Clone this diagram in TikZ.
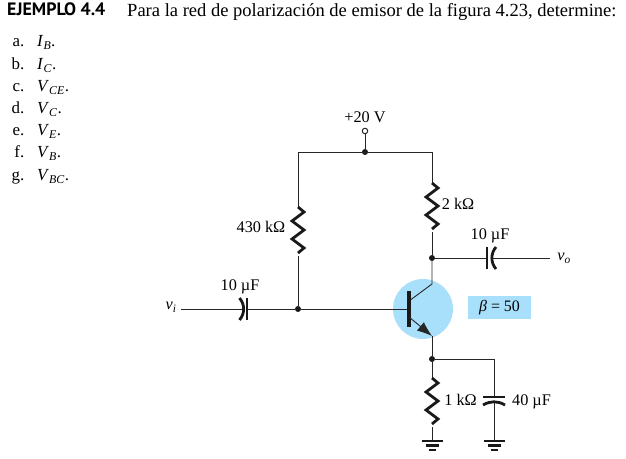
\documentclass[tikz,border=0pt]{standalone}
\usepackage{fontspec}
\setmainfont{Liberation Serif}
\newfontfamily\headfont{PT Sans}
\usetikzlibrary{arrows.meta}

\newcommand{\varsub}[2]{\textit{#1}\textsubscript{\textit{#2}}.}

\definecolor{bjtblue}{RGB}{168,223,250}
\tikzset{
    wire/.style={draw=black!85, line width=0.9bp},
    dot/.style={circle, fill=black!90, inner sep=0pt, minimum size=6bp},
    opendot/.style={circle, draw=black!85, fill=white, line width=1bp, inner sep=0pt, minimum size=5.5bp},
    plate/.style={draw=black!90, line width=2.8bp},
    lbl/.style={font=\fontsize{16.3}{18}\selectfont, inner sep=0pt, anchor=base},
    item/.style={font=\fontsize{17}{19}\selectfont, inner sep=0pt},
    resistor/.pic={
        \draw[black!90, line width=2.8bp, line join=miter] (0,0) -- ++(6,5) -- ++(-12,9) -- ++(12,9) -- ++(-12,9) -- ++(12,9) -- ++(-6,5);
    },
    ground/.pic={
        \draw[black!90, line width=2.2bp] (-10.5,0) -- (10.5,0);
        \draw[black!90, line width=2.2bp] (-6.5,4.5) -- (6.5,4.5);
        \draw[black!90, line width=2.2bp] (-3.5,9) -- (3.5,9);
    }
}

\begin{document}
\begin{tikzpicture}[x=1bp, y=-1bp]
    \useasboundingbox (0,0) rectangle (626,459);
    % heading
    \node[anchor=base west, inner sep=0pt, font=\headfont\bfseries\fontsize{18}{20}\selectfont] (head) at (7,16) {EJEMPLO 4.4};
    \node[anchor=base west, inner sep=0pt, font=\fontsize{18.6}{20}\selectfont] (task) at (127,16.5) {Para la red de polarización de emisor de la figura 4.23, determine:};
    % questions
    \foreach \i/\y/\l/\v in {a/47/a./{\varsub{I}{B}}, b/70/b./{\varsub{I}{C}}, c/92/c./{\varsub{V}{CE}},
        d/114/d./{\varsub{V}{C}}, e/136/e./{\varsub{V}{E}}, f/158/f./{\varsub{V}{B}}, g/181/g./{\varsub{V}{BC}}}{
        \node[item, anchor=base east] (let\i) at (24.5,\y) {\l};
        \node[item, anchor=base west] (var\i) at (37,\y) {\v};
    }
    % highlights
    \fill[bjtblue] (423,309) circle (30);
    \node[fill=bjtblue, minimum width=63bp, minimum height=23bp, inner sep=0pt] (betabox) at (499.5,307.5) {\fontsize{16}{18}\selectfont\textit{β} = 50};
    % nodes of the network
    \node[opendot] (vcc) at (365,131) {};
    \node[dot] (jtop) at (365,152) {};
    \node[dot] (jcol) at (432,258) {};
    \node[dot] (jbase) at (298,309) {};
    \node[dot] (jemit) at (432,359) {};
    \coordinate (cornerl) at (298,152);
    \coordinate (cornerr) at (432,152);
    \coordinate (cornerc) at (494,359);
    \coordinate (rba) at (298,207);
    \coordinate (rbb) at (298,256);
    \coordinate (rca) at (432,183);
    \coordinate (rcb) at (432,232);
    \coordinate (rea) at (432,378);
    \coordinate (reb) at (432,427);
    \coordinate (gnde) at (432,441);
    \coordinate (gndc) at (494,441);
    \coordinate (vifree) at (181,309);
    \coordinate (vofree) at (550,258);
    \coordinate (cia) at (243,309);
    \coordinate (cib) at (247,309);
    \coordinate (coa) at (487,258);
    \coordinate (cob) at (492,258);
    \coordinate (cea) at (494,397);
    \coordinate (ceb) at (494,402);
    \coordinate (basebar) at (409,309);
    \coordinate (colbar) at (409,301);
    \coordinate (colend) at (432,284);
    \coordinate (embar) at (409,317);
    \coordinate (emend) at (432,336);
    % wires
    \draw[wire] (vcc) -- (jtop);
    \draw[wire] (rba) -- (cornerl) -- (cornerr) -- (rca);
    \draw[wire] (rbb) -- (jbase);
    \draw[wire] (rcb) -- (jcol);
    \draw[wire] (jcol) -- (colend) -- (colbar);
    \draw[wire] (jcol) -- (coa);
    \draw[wire] (cob) -- (vofree);
    \draw[wire] (vifree) -- (cia);
    \draw[wire] (cib) -- (jbase) -- (basebar);
    \draw[wire] (emend) -- (jemit) -- (rea);
    \draw[wire] (reb) -- (gnde);
    \draw[wire] (jemit) -- (cornerc) -- (cea);
    \draw[wire] (ceb) -- (gndc);
    % resistors
    \pic at (rba) {resistor};
    \pic at (rca) {resistor};
    \pic at (rea) {resistor};
    % capacitors
    \draw[plate] (cib) ++(0,-11) -- ++(0,22);
    \draw[plate] (cia) ++(-3.5,-11) to[bend left=40] ++(0,22);
    \draw[plate] (coa) ++(0,-11) -- ++(0,22);
    \draw[plate] (cob) ++(4,-11) to[bend right=40] ++(0,22);
    \draw[plate] (cea) ++(-11,0) -- ++(22,0);
    \draw[plate] (ceb) ++(-11,3) to[bend left=30] ++(22,0);
    % transistor
    \draw[black!90, line width=4.2bp] (409,291) -- (409,327);
    \draw[wire, -{Latex[length=15bp,width=11bp]}] (embar) -- (emend);
    % grounds
    \pic at (gnde) {ground};
    \pic at (gndc) {ground};
    % labels
    \node[lbl] (lvcc) at (365,123) {+20 V};
    \node[lbl] (lrc) at (458,210) {2 kΩ};
    \node[lbl] (lco) at (490,240) {10 µF};
    \node[lbl] (lvo) at (564,260.5) {\textit{v}\textsubscript{\textit{o}}};
    \node[lbl] (lvi) at (171,309.5) {\textit{v}\textsubscript{\textit{i}}};
    \node[lbl] (lci) at (240,291) {10 µF};
    \node[lbl] (lrb) at (261,233) {430 kΩ};
    \node[lbl] (lre) at (460.5,405) {1 kΩ};
    \node[lbl] (lce) at (531.5,405) {40 µF};
\end{tikzpicture}
\end{document}
